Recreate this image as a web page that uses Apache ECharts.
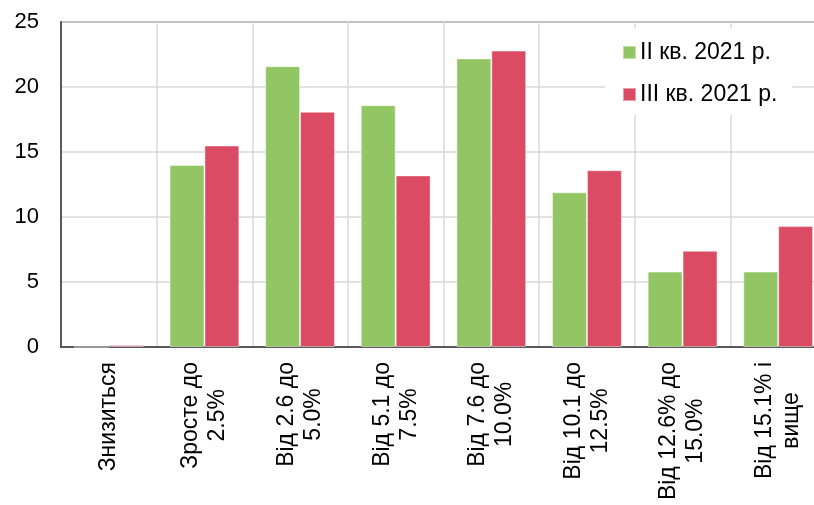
<!DOCTYPE html>
<html><head><meta charset="utf-8">
<script src="https://cdn.jsdelivr.net/npm/echarts@6/dist/echarts.min.js"></script>
<style>html,body{margin:0;padding:0;background:#fff;overflow:hidden;width:814px;height:505px}#c{width:840px;height:505px}</style>
</head><body><div id="c"></div>
<script>
const categories = ['Знизиться', 'Зросте до\n2.5%', 'Від 2.6 до\n5.0%', 'Від 5.1 до\n7.5%', 'Від 7.6 до\n10.0%', 'Від 10.1 до\n12.5%', 'Від 12.6% до\n15.0%', 'Від 15.1% і\nвище'];
const seriesNames = ['II кв. 2021 р.', 'III кв. 2021 р.'];
const q2Values = [0, 14.0, 21.6, 18.6, 22.2, 11.9, 5.8, 5.8];
const q3Values = [0.15, 15.5, 18.1, 13.2, 22.8, 13.6, 7.4, 9.3];
const yTicks = [0, 5, 10, 15, 20, 25];

const FONT = 'Liberation Sans, Arial, sans-serif';
const chart = echarts.init(document.getElementById('c'));
chart.setOption({
  animation: false,
  textStyle: { fontFamily: FONT },
  grid: { left: 61, top: 22, right: 14, bottom: 158, show: true, borderColor: '#595959', borderWidth: 1.5, backgroundColor: 'transparent' },
  legend: {
    orient: 'vertical', left: 605, top: 28,
    padding: [13, 15, 9, 17], backgroundColor: '#fff',
    itemWidth: 13, itemHeight: 13, itemGap: 19, icon: 'rect',
    textStyle: { fontSize: 23, color: '#000', fontFamily: FONT, padding: [0, 0, 0, -1] },
    data: seriesNames
  },
  xAxis: {
    type: 'category', data: categories,
    axisLine: { lineStyle: { color: '#595959', width: 2 } },
    axisTick: { inside: true, length: 7, lineStyle: { color: '#595959', width: 1.5 } },
    splitLine: { show: true, lineStyle: { color: '#d9d9d9', width: 1.5 } },
    axisLabel: {
      rotate: 90, margin: 15, interval: 0, color: '#000',
      formatter: v => v.split('\n').map(s => '{c|' + s + '}').join('\n'),
      rich: { c: { align: 'center', fontSize: 23, lineHeight: 27, fontFamily: FONT, color: '#000' } }
    }
  },
  yAxis: {
    type: 'value', min: yTicks[0], max: yTicks[yTicks.length - 1], interval: 5,
    axisLine: { show: true, lineStyle: { color: '#595959', width: 2 } },
    axisTick: { show: false },
    splitLine: { show: true, lineStyle: { color: '#d9d9d9', width: 1.5 } },
    axisLabel: { fontSize: 22, color: '#000', margin: 22, fontFamily: FONT }
  },
  series: [
    { name: seriesNames[0], type: 'bar', data: q2Values, barGap: '0%', barCategoryGap: '27%',
      itemStyle: { color: '#92c665', borderColor: 'rgba(255,255,255,0.45)', borderWidth: 1 } },
    { name: seriesNames[1], type: 'bar', data: q3Values, barGap: '0%', barCategoryGap: '27%',
      itemStyle: { color: '#db4b64', borderColor: 'rgba(255,255,255,0.45)', borderWidth: 1 } }
  ]
});
</script></body></html>
